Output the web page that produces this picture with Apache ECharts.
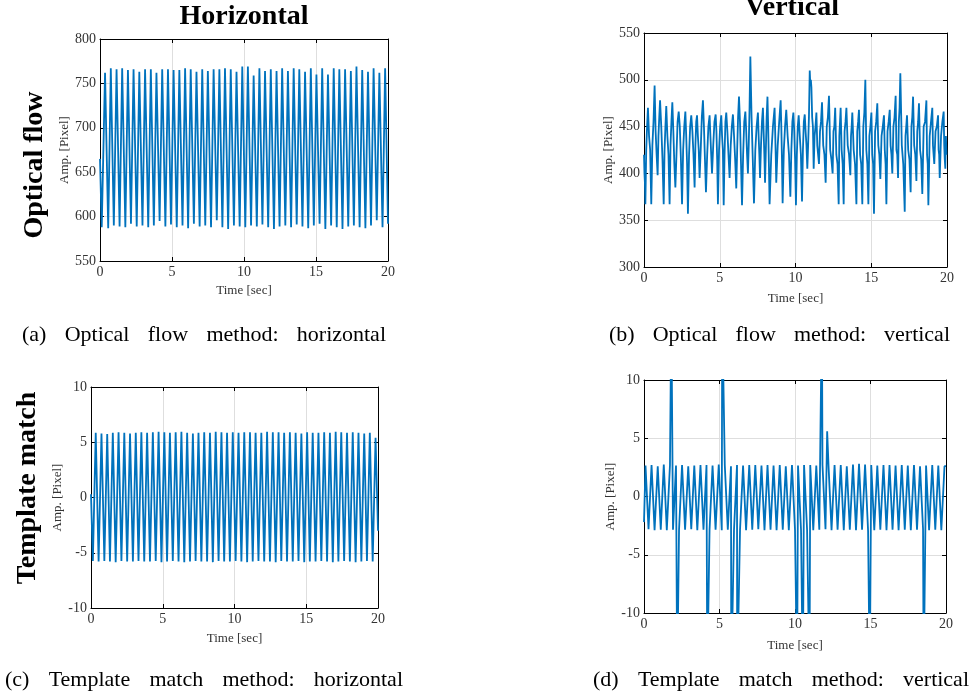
<!DOCTYPE html>
<html><head><meta charset="utf-8">
<script src="https://cdn.jsdelivr.net/npm/echarts@6/dist/echarts.min.js"></script>
<style>html,body{margin:0;padding:0;background:#fff}#c{width:974px;height:697px}</style>
</head><body><div id="c"></div>
<script>
// ---------- tick settings ----------
const xTicks = [0, 5, 10, 15, 20];
const yTicksA = [550, 600, 650, 700, 750, 800];
const yTicksB = [300, 350, 400, 450, 500, 550];
const yTicksC = [-10, -5, 0, 5, 10];
const yTicksD = [-10, -5, 0, 5, 10];

// ---------- (a) optical flow, horizontal ----------
const aStart = [0, 665];
const aEnd = [20, 592];
const aPeakT = [0.35,0.75,1.15,1.54,1.94,2.33,2.73,3.13,3.53,3.92,4.32,4.72,5.11,5.51,5.91,6.30,6.70,7.10,7.49,7.89,8.29,8.68,9.08,9.48,9.88,10.27,10.67,11.07,11.46,11.86,12.26,12.65,13.05,13.45,13.84,14.24,14.64,15.03,15.43,15.83,16.23,16.62,17.02,17.42,17.81,18.21,18.61,19.00,19.40,19.80];
const aPeakV = [762,767,766,767,765,766,763,766,766,762,766,766,765,765,767,766,763,766,764,766,766,767,766,763,769,769,759,767,764,766,764,767,764,767,766,763,767,760,767,760,767,766,766,764,769,765,763,767,762,767];
const aTroughT = [0.12,0.57,0.96,1.36,1.76,2.15,2.55,2.95,3.35,3.74,4.14,4.54,4.93,5.33,5.73,6.12,6.52,6.92,7.31,7.71,8.11,8.50,8.90,9.30,9.70,10.09,10.49,10.89,11.28,11.68,12.08,12.47,12.87,13.27,13.66,14.06,14.46,14.85,15.25,15.65,16.05,16.44,16.84,17.24,17.63,18.03,18.43,18.82,19.22,19.62];
const aTroughV = [588,587,590,589,588,592,589,590,588,590,595,589,591,588,590,587,592,589,590,588,596,588,586,590,589,588,590,589,591,588,586,589,590,588,591,589,587,590,592,586,590,588,586,589,590,588,587,590,596,588];

// ---------- (b) optical flow, vertical ----------
const bStart = [0, 420];
const bExtT = [0.09,0.26,0.48,0.70,0.90,1.06,1.30,1.47,1.69,1.87,2.07,2.29,2.51,2.73,2.90,3.12,3.34,3.50,3.67,3.89,4.09,4.33,4.49,4.73,4.88,5.10,5.26,5.43,5.65,5.87,6.09,6.27,6.47,6.69,6.86,7.02,7.26,7.52,7.66,7.85,7.99,8.15,8.29,8.62,8.73,9.02,9.15,9.39,9.66,9.86,10.03,10.21,10.43,10.61,10.78,10.94,11.05,11.20,11.38,11.55,11.75,11.99,12.21,12.45,12.62,12.85,12.98,13.18,13.36,13.62,13.75,14.02,14.19,14.41,14.61,14.81,15.01,15.18,15.40,15.60,15.84,16.00,16.22,16.39,16.61,16.77,16.92,17.21,17.36,17.60,17.76,17.98,18.15,18.37,18.64,18.77,19.03,19.16,19.41,19.52,19.78,19.89,20.00];
const bExtV = [367,470,367,494,398,478,367,472,367,476,385,466,367,466,357,462,385,462,395,478,380,462,400,463,367,462,366,465,395,463,384,482,366,466,400,525,368,465,395,470,390,482,367,470,390,478,368,468,375,465,366,462,370,463,405,510,492,405,465,410,476,390,483,400,470,367,470,367,470,398,465,367,468,367,500,367,465,357,475,394,462,367,468,400,483,395,507,359,462,380,482,392,475,378,478,366,470,410,462,395,466,405,420];
const bMidV = [400,425,440,430,445,440,450,425,440,430,
  445,420,450,425,440,420,445,430,440,425,
  450,420,440,430,445,425,440,420,445,430,
  440,425,455,420,445,430,460,425,440,430,
  445,425,450,420,445,430,450,425,440,425,
  445,420,440,425,445,430,495,460,440,430,
  445,430,450,425,445,420,440,425,445,430,
  440,425,445,420,450,425,440,420,445,430,
  440,425,445,430,450,425,455,430,440,425,
  450,430,445,425,450,420,440,430,445,425,
  440,430,440];
const bMid2V = [390,450,425,455,420,460,415,450,420,455,
  410,455,415,450,410,450,420,455,425,460,
  415,450,420,455,415,450,425,455,420,450,
  415,460,410,455,420,470,415,450,420,455,
  420,460,410,450,420,455,415,450,420,455,
  415,450,420,455,430,460,500,450,450,420,
  455,420,460,415,450,410,455,410,455,420,
  450,410,455,410,465,410,450,410,455,420,
  450,410,455,420,460,420,470,410,450,415,
  460,420,455,415,455,410,455,420,450,420,
  455,415,420];

// ---------- (c) template match, horizontal ----------
const cStart = [0, 0.3];
const cEnd = [20, -3.0];
const cPeakT = [0.33,0.73,1.13,1.52,1.92,2.32,2.72,3.12,3.51,3.91,4.31,4.71,5.11,5.50,5.90,6.30,6.70,7.10,7.49,7.89,8.29,8.69,9.09,9.48,9.88,10.28,10.68,11.08,11.47,11.87,12.27,12.67,13.07,13.46,13.86,14.26,14.66,15.06,15.45,15.85,16.25,16.65,17.05,17.44,17.84,18.24,18.64,19.04,19.43,19.83];
const cPeakV = [5.85,5.80,5.75,5.85,5.90,5.85,5.80,5.85,5.90,5.85,5.90,5.95,5.90,5.85,5.90,5.95,5.85,5.80,5.85,5.90,5.85,5.95,5.90,5.85,5.90,5.85,5.90,5.90,5.85,5.85,5.95,5.90,5.90,5.85,5.90,5.85,5.80,5.90,5.85,5.85,5.90,5.85,5.95,5.90,5.85,5.90,5.85,5.80,5.85,5.40];
const cTroughT = [0.13,0.53,0.93,1.32,1.72,2.12,2.52,2.92,3.31,3.71,4.11,4.51,4.91,5.30,5.70,6.10,6.50,6.90,7.29,7.69,8.09,8.49,8.89,9.28,9.68,10.08,10.48,10.88,11.27,11.67,12.07,12.47,12.87,13.26,13.66,14.06,14.46,14.86,15.25,15.65,16.05,16.45,16.85,17.24,17.64,18.04,18.44,18.84,19.23,19.63];
const cTroughV = [-5.75,-5.80,-5.75,-5.80,-5.85,-5.75,-5.80,-5.80,-5.75,-5.80,-5.80,-5.75,-5.85,-5.80,-5.75,-5.80,-5.85,-5.80,-5.75,-5.80,-5.80,-5.85,-5.75,-5.80,-5.80,-5.75,-5.80,-5.85,-5.80,-5.75,-5.80,-5.80,-5.85,-5.75,-5.80,-5.80,-5.75,-5.85,-5.80,-5.80,-5.75,-5.80,-5.85,-5.80,-5.75,-5.80,-5.85,-5.80,-5.75,-5.80];

// ---------- (d) template match, vertical ----------
const dStart = [0, -2.2];
const dEnd = [20, 2.6];
const dPeakT = [0.10,0.50,0.91,1.31,1.72,2.12,2.52,2.93,3.33,3.74,4.14,4.54,4.95,5.35,5.76,6.16,6.56,6.97,7.37,7.78,8.18,8.58,8.99,9.39,9.80,10.20,10.60,11.01,11.41,11.82,12.22,12.62,13.03,13.43,13.84,14.24,14.64,15.05,15.45,15.86,16.26,16.66,17.07,17.47,17.88,18.28,18.68,19.09,19.49,19.90];
const dPeakV = [2.65,2.70,2.60,2.75,2.70,2.65,2.70,2.60,2.65,2.70,2.70,2.65,2.75,2.70,2.60,2.70,2.65,2.70,2.70,2.65,2.70,2.65,2.70,2.60,2.70,2.65,2.70,2.70,2.65,2.70,2.65,2.70,2.70,2.60,2.75,2.80,2.75,2.70,2.65,2.70,2.70,2.65,2.70,2.65,2.70,2.60,2.65,2.70,2.65,2.60];
const dTroughT = [0.30,0.70,1.11,1.51,1.92,2.32,2.72,3.13,3.53,3.94,4.34,4.74,5.15,5.55,5.96,6.36,6.76,7.17,7.57,7.98,8.38,8.78,9.19,9.59,10.00,10.40,10.80,11.21,11.61,12.02,12.42,12.82,13.23,13.63,14.04,14.44,14.84,15.25,15.65,16.06,16.46,16.86,17.27,17.67,18.08,18.48,18.88,19.29,19.69];
const dTroughV = [-2.80,-2.90,-2.85,-2.90,-2.85,-2.90,-2.85,-2.80,-2.90,-2.85,-2.90,-2.85,-2.90,-2.85,-2.90,-2.85,-2.90,-2.85,-2.80,-2.90,-2.85,-2.90,-2.85,-2.90,-2.85,-2.90,-2.85,-2.90,-2.85,-2.80,-2.90,-2.85,-2.90,-2.85,-2.90,-2.85,-2.95,-2.90,-2.85,-2.90,-2.85,-2.90,-2.85,-2.90,-2.85,-2.80,-2.90,-2.85,-2.90];
const dSpikeT = [1.81,2.20,4.19,5.18,5.22,5.78,6.17,10.14,10.52,10.96,11.78,12.13,14.95,18.52];
const dSpikeV = [16,-16,-16,16,16,-16,-16,-16,-16,-16,16,5.6,-16,-16];

// ---------- text ----------
const colTitles = ['Horizontal', 'Vertical'];
const rowTitles = ['Optical flow', 'Template match'];
const captions = [
  '(a) Optical flow method: horizontal',
  '(b) Optical flow method: vertical',
  '(c) Template match method: horizontal',
  '(d) Template match method: vertical'
];
const xName = 'Time [sec]';
const yName = 'Amp. [Pixel]';

// ---------- build series ----------
function merge(start, lists, end) {
  let pts = [];
  lists.forEach(([ts, vs]) => ts.forEach((t, i) => pts.push([t, vs[i]])));
  pts.sort((p, q) => p[0] - q[0]);
  const out = [start].concat(pts);
  if (end) out.push(end);
  return out;
}
const aData = merge(aStart, [[aPeakT, aPeakV], [aTroughT, aTroughV]], aEnd);
const cData = merge(cStart, [[cPeakT, cPeakV], [cTroughT, cTroughV]], cEnd);
const dData = merge(dStart, [[dPeakT, dPeakV], [dTroughT, dTroughV], [dSpikeT, dSpikeV]], dEnd);
const bData = [bStart];
{
  let prev = bStart;
  bExtT.forEach((t, i) => {
    const dt = t - prev[0];
    bData.push([prev[0] + dt / 3, bMidV[i]]);
    bData.push([prev[0] + 2 * dt / 3, bMid2V[i]]);
    const p = [t, bExtV[i]];
    bData.push(p);
    prev = p;
  });
}

const FONT = '"Liberation Serif", "Times New Roman", serif';
const BLUE = '#0072BD';
const grids = [
  {left: 100, top: 39, width: 288, height: 222},
  {left: 644, top: 33, width: 303, height: 234},
  {left: 91, top: 387, width: 287, height: 221},
  {left: 644, top: 380, width: 302, height: 233}
];
const yTickSets = [yTicksA, yTicksB, yTicksC, yTicksD];
const yNameGaps = [24, 27, 21, 26];
const xNameGaps = [23, 25, 24, 26];
const datas = [aData, bData, cData, dData];

const xAxis = [], yAxis = [], series = [];
grids.forEach((g, i) => {
  const yt = yTickSets[i];
  const yMin = yt[0], yMax = yt[yt.length - 1], yInt = yt[1] - yt[0];
  xAxis.push({
    type: 'value', gridIndex: i, min: xTicks[0], max: xTicks[xTicks.length - 1], interval: xTicks[1] - xTicks[0],
    position: 'bottom',
    axisLine: {show: true, onZero: false, lineStyle: {color: '#000', width: 1}},
    axisTick: {show: true, inside: true, length: 4, lineStyle: {color: '#000'}},
    axisLabel: {fontFamily: FONT, fontSize: 14, color: '#333', margin: 4},
    splitLine: {show: true, lineStyle: {color: '#dedede', width: 1}},
    name: xName, nameLocation: 'middle', nameGap: xNameGaps[i],
    nameTextStyle: {fontFamily: FONT, fontSize: 13, color: '#333'}
  });
  yAxis.push({
    type: 'value', gridIndex: i, min: yMin, max: yMax, interval: yInt,
    position: 'left',
    axisLine: {show: true, onZero: false, lineStyle: {color: '#000', width: 1}},
    axisTick: {show: true, inside: true, length: 4, lineStyle: {color: '#000'}},
    axisLabel: {fontFamily: FONT, fontSize: 14, color: '#333', margin: 4},
    splitLine: {show: true, lineStyle: {color: '#dedede', width: 1}},
    name: yName, nameLocation: 'middle', nameGap: yNameGaps[i],
    nameTextStyle: {fontFamily: FONT, fontSize: 13, color: '#333'}
  });
  series.push({
    type: 'line', xAxisIndex: i, yAxisIndex: i, data: datas[i],
    showSymbol: false, symbol: 'none', clip: true, animation: false,
    lineStyle: {color: BLUE, width: 1.8}, z: 3
  });
});
// mirrored top/right axes (ticks only, MATLAB box style)
grids.forEach((g, i) => {
  const yt = yTickSets[i];
  xAxis.push({
    type: 'value', gridIndex: i, min: 0, max: 20, interval: 5, position: 'top',
    axisLine: {show: true, onZero: false, lineStyle: {color: '#000'}},
    axisTick: {show: true, inside: true, length: 4, lineStyle: {color: '#000'}},
    axisLabel: {show: false}, splitLine: {show: false}
  });
  yAxis.push({
    type: 'value', gridIndex: i, min: yt[0], max: yt[yt.length - 1], interval: yt[1] - yt[0], position: 'right',
    axisLine: {show: true, onZero: false, lineStyle: {color: '#000'}},
    axisTick: {show: true, inside: true, length: 4, lineStyle: {color: '#000'}},
    axisLabel: {show: false}, splitLine: {show: false}
  });
});

// ---------- graphic texts ----------
const measureCtx = document.createElement('canvas').getContext('2d');
function justified(text, x0, x1, y, size) {
  const words = text.split(' ');
  measureCtx.font = size + 'px ' + FONT;
  const ws = words.map(w => measureCtx.measureText(w).width);
  const total = ws.reduce((s, w) => s + w, 0);
  const gap = (x1 - x0 - total) / (words.length - 1);
  let x = x0;
  return words.map((w, i) => {
    const el = {type: 'text', x: x, y: y, silent: true,
      style: {text: w, fontFamily: FONT, fontSize: size, fill: '#000', align: 'left', verticalAlign: 'middle'}};
    x += ws[i] + gap;
    return el;
  });
}
const graphic = [
  {type: 'text', x: 244, y: 17, style: {text: colTitles[0], fontFamily: FONT, fontWeight: 'bold', fontSize: 28, fill: '#000', align: 'center', verticalAlign: 'middle'}},
  {type: 'text', x: 792, y: 8, style: {text: colTitles[1], fontFamily: FONT, fontWeight: 'bold', fontSize: 28, fill: '#000', align: 'center', verticalAlign: 'middle'}},
  {type: 'text', x: 35, y: 165, rotation: Math.PI / 2, style: {text: rowTitles[0], fontFamily: FONT, fontWeight: 'bold', fontSize: 28, fill: '#000', align: 'center', verticalAlign: 'middle'}},
  {type: 'text', x: 28, y: 488, rotation: Math.PI / 2, style: {text: rowTitles[1], fontFamily: FONT, fontWeight: 'bold', fontSize: 28, fill: '#000', align: 'center', verticalAlign: 'middle'}}
].concat(
  justified(captions[0], 22, 386, 335, 22),
  justified(captions[1], 609, 950, 335, 22),
  justified(captions[2], 5, 403, 680, 22),
  justified(captions[3], 593, 969, 680, 22)
);

const chart = echarts.init(document.getElementById('c'), null, {renderer: 'canvas'});
chart.setOption({
  animation: false,
  backgroundColor: '#fff',
  grid: grids.map(g => Object.assign({show: false, containLabel: false}, g)),
  xAxis: xAxis, yAxis: yAxis, series: series, graphic: graphic
});
</script></body></html>
